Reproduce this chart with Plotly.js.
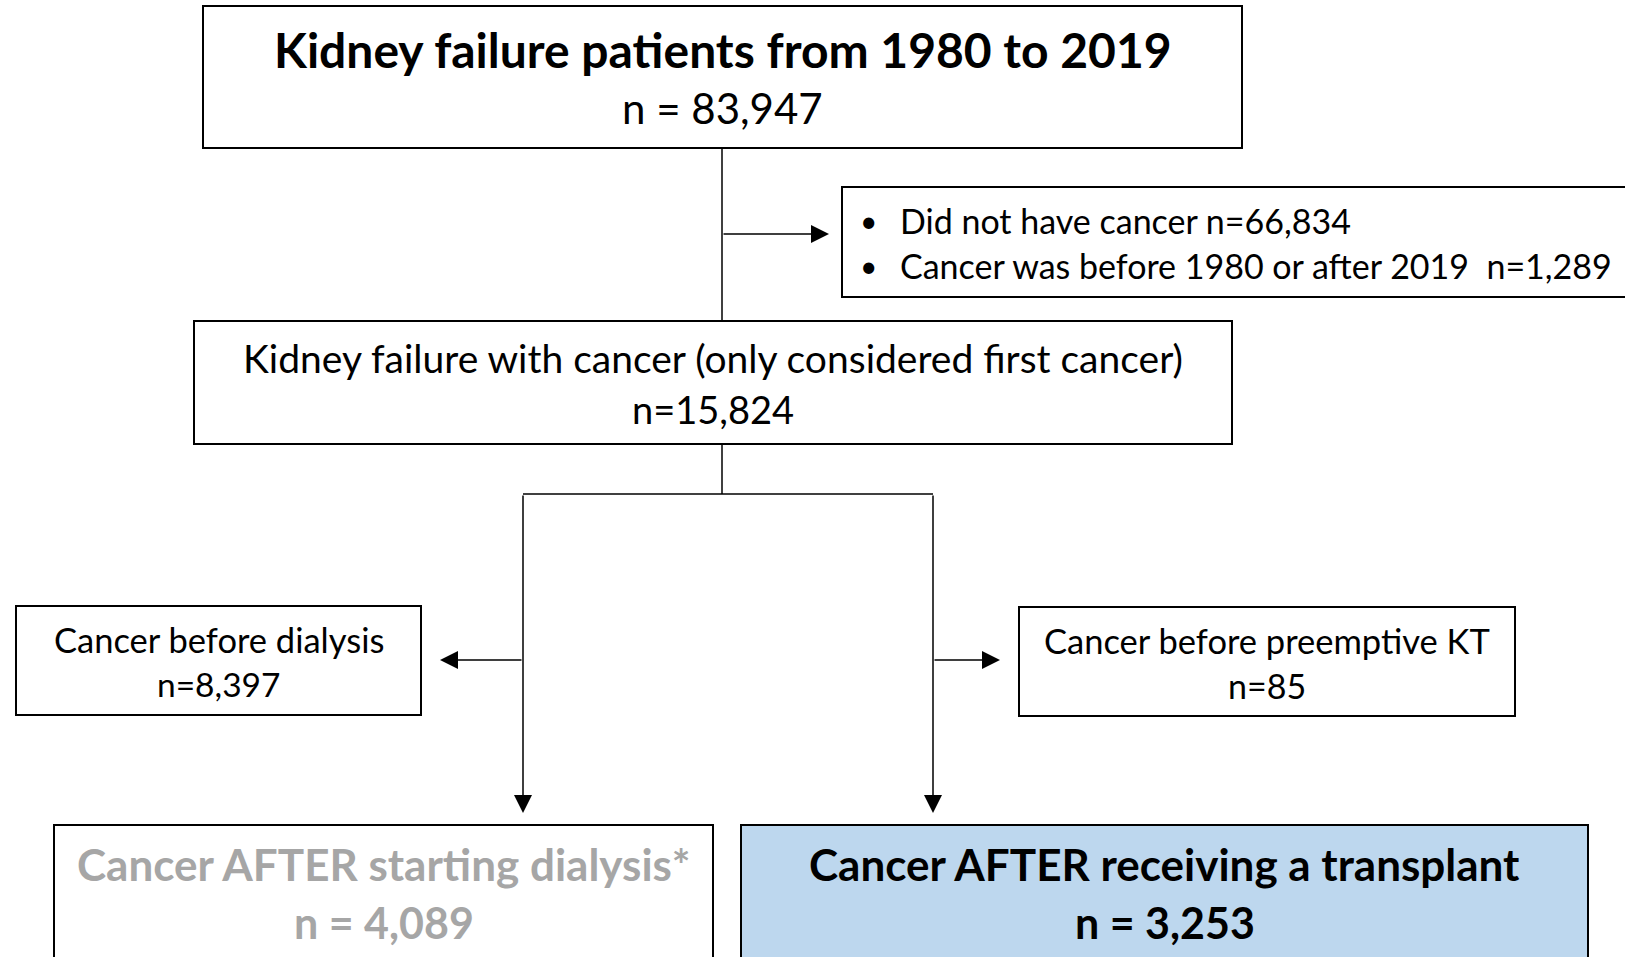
<!DOCTYPE html>
<html>
<head>
<meta charset="utf-8">
<script src="https://cdn.plot.ly/plotly-3.0.1.min.js"></script>
<style>
  html, body { margin: 0; padding: 0; background: #fff; }
  #chart { width: 1625px; height: 957px; }
</style>
</head>
<body>
<div id="chart"></div>
<script>
// flowchart content
var stageLabels = [
  'Kidney failure patients from 1980 to 2019',
  'Kidney failure with cancer (only considered first cancer)',
  'Cancer before dialysis',
  'Cancer before preemptive KT',
  'Cancer AFTER starting dialysis*',
  'Cancer AFTER receiving a transplant'
];
var stageCounts = ['n = 83,947', 'n=15,824', 'n=8,397', 'n=85', 'n = 4,089', 'n = 3,253'];
var excludedLabels = ['Did not have cancer n=66,834', 'Cancer was before 1980 or after 2019  n=1,289'];

// box geometry in page pixels (x0, x1, y0, y1), text line centres, styling
var boxes = [
  {x0: 203, x1: 1242, y0: 6,   y1: 148, lines: [49, 108], size: [48, 42], bold: [true, false], color: '#000', fill: '#fff'},
  {x0: 194, x1: 1232, y0: 321, y1: 444, lines: [358, 409], size: [39, 38], bold: [false, false], color: '#000', fill: '#fff'},
  {x0: 16,  x1: 421,  y0: 606, y1: 715, lines: [639, 684], size: [34.5, 33.5], bold: [false, false], color: '#000', fill: '#fff'},
  {x0: 1019, x1: 1515, y0: 607, y1: 716, lines: [640, 685], size: [34.5, 34], bold: [false, false], color: '#000', fill: '#fff'},
  {x0: 54,  x1: 713,  y0: 825, y1: 975, lines: [864, 922], size: [44, 43], bold: [true, true], color: '#a6a6a6', fill: '#fff'},
  {x0: 741, x1: 1588, y0: 825, y1: 975, lines: [864, 922], size: [44, 43], bold: [true, true], color: '#000', fill: '#bdd7ee'}
];
var exclBox = {x0: 842, x1: 1640, y0: 187, y1: 297, lines: [220, 265], bulletX: 868, textX: 898, size: 34};

var FONT = 'Lato, "Open Sans", sans-serif';

var shapes = [];
var annotations = [];

function bx(txt, b) { return b ? '<b>' + txt + '</b>' : txt; }

boxes.forEach(function(b, i) {
  shapes.push({type: 'rect', xref: 'x', yref: 'y', x0: b.x0, x1: b.x1, y0: b.y0, y1: b.y1,
    line: {color: '#000', width: 2}, fillcolor: b.fill, layer: 'below'});
  var cx = (b.x0 + b.x1) / 2;
  var texts = [stageLabels[i], stageCounts[i]];
  texts.forEach(function(t, k) {
    annotations.push({x: cx, y: b.lines[k], xref: 'x', yref: 'y', text: bx(t, b.bold[k]),
      showarrow: false, xanchor: 'center', yanchor: 'middle',
      font: {family: FONT, size: b.size[k], color: b.color}});
  });
});

shapes.push({type: 'rect', xref: 'x', yref: 'y', x0: exclBox.x0, x1: exclBox.x1, y0: exclBox.y0, y1: exclBox.y1,
  line: {color: '#000', width: 2}, fillcolor: '#fff', layer: 'below'});
excludedLabels.forEach(function(t, k) {
  annotations.push({x: exclBox.bulletX, y: exclBox.lines[k], xref: 'x', yref: 'y', text: '•',
    showarrow: false, xanchor: 'center', yanchor: 'middle', font: {family: FONT, size: exclBox.size - 4, color: '#000'}});
  annotations.push({x: exclBox.textX, y: exclBox.lines[k], xref: 'x', yref: 'y', text: t,
    showarrow: false, xanchor: 'left', yanchor: 'middle', font: {family: FONT, size: exclBox.size, color: '#000'}});
});

// connector lines
var lineStyle = {color: '#000', width: 1.5};
var segs = [
  [722, 148, 722, 321],
  [722, 444, 722, 494],
  [523, 494, 933, 494]
];
segs.forEach(function(s) {
  shapes.push({type: 'line', xref: 'x', yref: 'y', x0: s[0], y0: s[1], x1: s[2], y1: s[3], line: lineStyle});
});

// arrows: [tailX, tailY, tipX, tipY]
var arrows = [
  [722, 234, 829, 234],
  [523, 494, 523, 813],
  [933, 494, 933, 813],
  [523, 660, 440, 660],
  [933, 660, 1000, 660]
];
arrows.forEach(function(a) {
  annotations.push({x: a[2], y: a[3], ax: a[0], ay: a[1], xref: 'x', yref: 'y', axref: 'x', ayref: 'y',
    text: '', showarrow: true, arrowhead: 2, arrowsize: 2.4, arrowwidth: 1.5, arrowcolor: '#000', standoff: 0});
});

var layout = {
  width: 1625, height: 957,
  margin: {l: 0, r: 0, t: 0, b: 0},
  paper_bgcolor: '#fff', plot_bgcolor: '#fff',
  showlegend: false,
  xaxis: {range: [0, 1625], visible: false, fixedrange: true},
  yaxis: {range: [957, 0], visible: false, fixedrange: true},
  shapes: shapes,
  annotations: annotations
};

Plotly.newPlot('chart', [{x: [], y: [], type: 'scatter', mode: 'markers', hoverinfo: 'skip'}], layout, {staticPlot: true});
</script>
</body>
</html>
